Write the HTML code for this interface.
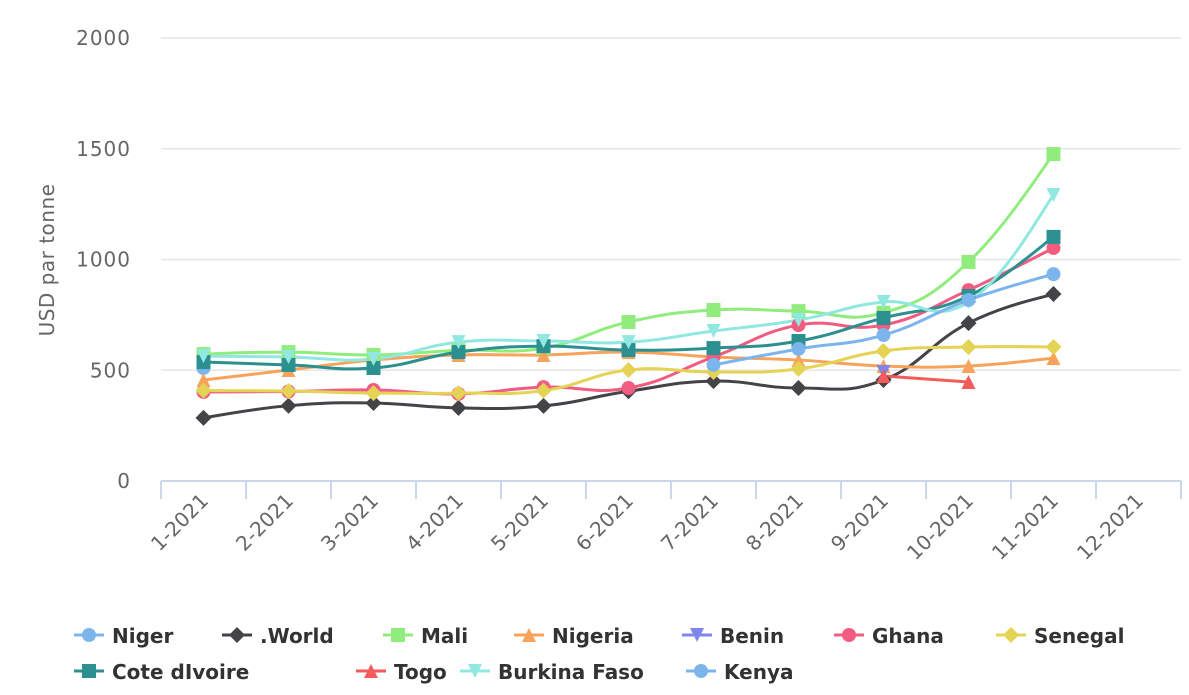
<!DOCTYPE html>
<html><head><meta charset="utf-8">
<style>
html,body{margin:0;padding:0;background:#fff;}
svg{display:block;}
.yl{font-family:"DejaVu Sans","Liberation Sans",sans-serif;font-size:20px;fill:#666;letter-spacing:1px;}
.xl{font-family:"DejaVu Sans","Liberation Sans",sans-serif;font-size:20px;fill:#666;}
.lg{font-family:"DejaVu Sans","Liberation Sans",sans-serif;font-size:20px;font-weight:bold;fill:#333;}
</style></head>
<body>
<svg id="c" width="1189" height="695" xmlns="http://www.w3.org/2000/svg">
<g id="grid"></g>
<text class="yl" transform="translate(54,260) rotate(-90)" text-anchor="middle" style="letter-spacing:0.5px">USD par tonne</text>
<g id="series"></g>
<g id="legend"></g>
</svg>
<script>
const NS="http://www.w3.org/2000/svg";
const svg=document.getElementById('c');
const grid=document.getElementById('grid'), ser=document.getElementById('series'), leg=document.getElementById('legend');
function el(t,a,p){const e=document.createElementNS(NS,t);for(const k in a)e.setAttribute(k,a[k]);(p||svg).appendChild(e);return e;}
const X0=161,X1=1181,Y0=481,S=(481-38)/2000,CW=(X1-X0)/12;
const xp=i=>X0+CW*(i+0.5), yp=v=>Y0-v*S;
for(let v=0;v<=2000;v+=500){
  if(v>0) el('line',{x1:X0,x2:X1,y1:yp(v),y2:yp(v),stroke:'#e6e6e6','stroke-width':1.5},grid);
  const t=el('text',{x:131,y:yp(v)+7,'text-anchor':'end',class:'yl'},grid);t.textContent=v;
}
el('line',{x1:X0,x2:X1,y1:Y0,y2:Y0,stroke:'#ccd6eb','stroke-width':2},grid);
for(let i=0;i<=12;i++){el('line',{x1:X0+CW*i,x2:X0+CW*i,y1:Y0,y2:Y0+18,stroke:'#ccd6eb','stroke-width':2},grid);}
for(let i=0;i<12;i++){const x=xp(i)+6,y=502;const t=el('text',{x:x,y:y,'text-anchor':'end',class:'xl',transform:`rotate(-45 ${x} ${y})`},grid);t.textContent=(i+1)+'-2021';}
const N=null;
const data=[
 ['Niger','#7cb5ec','circle',[510]],
 ['.World','#434348','diamond',[285,340,352,330,339,405,451,420,456,713,844]],
 ['Mali','#90ed7d','square',[573,582,569,590,600,718,772,767,760,989,1476]],
 ['Nigeria','#f7a35c','tri',[456,501,546,569,569,582,560,546,519,519,555]],
 ['Benin','#8085e9','tridown',[N,N,N,N,N,N,N,N,492]],
 ['Ghana','#f15c80','circle',[402,404,411,393,424,420,560,704,704,862,1052]],
 ['Senegal','#e4d354','diamond',[408,406,397,397,408,501,492,506,587,605,605]],
 ['Cote dIvoire','#2b908f','square',[537,524,510,582,609,591,600,632,736,835,1102]],
 ['Togo','#f45b5b','tri',[N,N,N,N,N,N,N,N,474,447]],
 ['Burkina Faso','#91e8e1','tridown',[564,560,551,627,632,627,677,727,808,808,1291]],
 ['Kenya','#7cb5ec','circle',[N,N,N,N,N,N,524,596,659,817,934]]
];
function marker(type,x,y,c,g,r){r=r||7;
 if(type=='circle')el('circle',{cx:x,cy:y,r:r,fill:c},g);
 else if(type=='square')el('rect',{x:x-r,y:y-r,width:2*r,height:2*r,fill:c},g);
 else if(type=='diamond')el('path',{d:`M${x} ${y-r-1}L${x+r+1} ${y}L${x} ${y+r+1}L${x-r-1} ${y}Z`,fill:c},g);
 else if(type=='tri')el('path',{d:`M${x} ${y-r}L${x+r} ${y+r}L${x-r} ${y+r}Z`,fill:c},g);
 else el('path',{d:`M${x-r} ${y-r}L${x+r} ${y-r}L${x} ${y+r}Z`,fill:c},g);
}
function spline(pts){
 let d=`M${pts[0][0]} ${pts[0][1]}`;const sm=1.5;
 for(let i=0;i<pts.length-1;i++){
  const p0=pts[i-1]||pts[i],p1=pts[i],p2=pts[i+1],p3=pts[i+2]||p2;
  const c1x=p1[0]+(p2[0]-p0[0])/(2*sm)/ (p0===p1?2:1) *0.66, c1y=p1[1]+(p2[1]-p0[1])/(2*sm)/(p0===p1?2:1)*0.66;
  const c2x=p2[0]-(p3[0]-p1[0])/(2*sm)/(p3===p2?2:1)*0.66, c2y=p2[1]-(p3[1]-p1[1])/(2*sm)/(p3===p2?2:1)*0.66;
  d+=`C${c1x} ${c1y} ${c2x} ${c2y} ${p2[0]} ${p2[1]}`;
 }
 return d;
}
data.forEach(s=>{
 const pts=[];s[3].forEach((v,i)=>{if(v!=null)pts.push([xp(i),yp(v)]);});
 if(pts.length>1) el('path',{d:spline(pts),fill:'none',stroke:s[1],'stroke-width':3,'stroke-linejoin':'round'},ser);
});
data.forEach(s=>{s[3].forEach((v,i)=>{if(v!=null)marker(s[2],xp(i),yp(v),s[1],ser);});});
const lpos=[[74,635],[222,635],[383,635],[514,635],[682,635],[834,635],[996,635],[74,671],[356,671],[460,671],[686,671]];
data.forEach((s,k)=>{const [x,y]=lpos[k];
 el('line',{x1:x,x2:x+30,y1:y,y2:y,stroke:s[1],'stroke-width':3},leg);
 marker(s[2],x+15,y,s[1],leg,7);
 const t=el('text',{x:x+38,y:y+8,class:'lg'},leg);t.textContent=s[0];
});
</script>
</body></html>
